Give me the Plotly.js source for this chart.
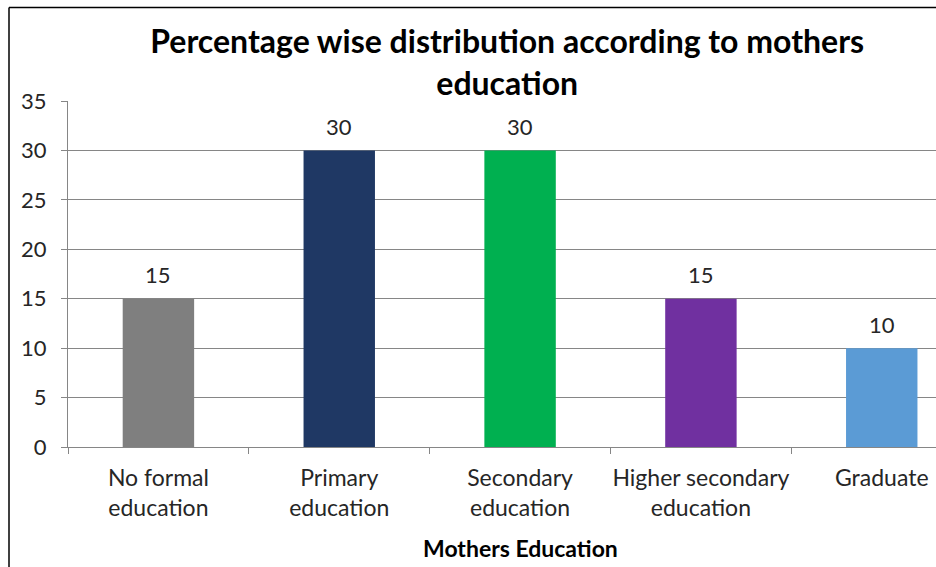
<!DOCTYPE html>
<html>
<head>
<meta charset="utf-8">
<script src="https://cdn.plot.ly/plotly-3.0.1.min.js"></script>
<style>
html,body{margin:0;padding:0;background:#fff;}
#chart{width:936px;height:567px;}
</style>
</head>
<body>
<div id="chart"></div>
<script>
const categories = ["No formal<br>education", "Primary<br>education", "Secondary<br>education", "Higher secondary<br>education", "Graduate"];
const percentages = [15, 30, 30, 15, 10];
const barColors = ["#7F7F7F", "#1F3864", "#00B050", "#7030A0", "#5B9BD5"];
const yTicks = [0, 5, 10, 15, 20, 25, 30, 35];

const FONT = "Lato, 'Open Sans', sans-serif";
const W = 936, H = 567;
const margin = {l: 68, r: 0, t: 101, b: 120};
const pw = W - margin.l - margin.r, ph = H - margin.t - margin.b;
// paper coordinates for the outer chart border (left and top edges)
const bx = (9 - margin.l) / pw;
const by = 1 + (margin.t - 7.5) / ph;

const trace = {
  type: "bar",
  x: categories,
  y: percentages,
  marker: {color: barColors, line: {width: 0}},
  width: 0.395,
  hoverinfo: "x+y"
};

const valueLabels = categories.map((c, i) => ({
  x: c, y: percentages[i], xref: "x", yref: "y",
  text: String(percentages[i]),
  showarrow: false, xanchor: "center", yanchor: "middle", yshift: 24,
  font: {family: FONT, size: 22, color: "#262626"}
}));

const layout = {
  width: W, height: H,
  margin: margin,
  paper_bgcolor: "#fff",
  plot_bgcolor: "#fff",
  showlegend: false,
  font: {family: FONT, color: "#262626"},
  title: {
    text: "<b>Percentage wise distribution according to mothers<br>education</b>",
    font: {family: FONT, size: 32, color: "#000"},
    xref: "paper", x: 0.506, xanchor: "center",
    yref: "container", y: 1 - 53 / H, yanchor: "middle"
  },
  xaxis: {
    type: "category",
    range: [-0.5, 4.3],
    tickson: "boundaries",
    tickangle: 0,
    ticks: "outside", ticklen: 6, tickcolor: "#868686",
    showline: true, linecolor: "#868686", linewidth: 1,
    showgrid: false,
    tickfont: {family: FONT, size: 23, color: "#262626"},
    ticklabelstandoff: 10,
    fixedrange: true
  },
  yaxis: {
    range: [0, 35],
    tickvals: yTicks,
    ticks: "outside", ticklen: 6, tickcolor: "#868686",
    showline: true, linecolor: "#868686", linewidth: 1,
    showgrid: true, gridcolor: "#868686", gridwidth: 1,
    zeroline: false,
    tickfont: {family: FONT, size: 22, color: "#262626"},
    ticklabelstandoff: 10,
    fixedrange: true
  },
  annotations: valueLabels.concat([{
    text: "<b>Mothers Education</b>",
    xref: "x", x: 2, yref: "paper", y: -(548 - 447) / ph,
    xanchor: "center", yanchor: "middle",
    showarrow: false,
    font: {family: FONT, size: 23, color: "#000"}
  }]),
  shapes: [
    {type: "line", xref: "paper", yref: "paper", x0: bx, x1: bx, y0: by, y1: -2, line: {color: "#000", width: 1.5}},
    {type: "line", xref: "paper", yref: "paper", x0: bx, x1: 2, y0: by, y1: by, line: {color: "#000", width: 1.5}}
  ]
};

Plotly.newPlot("chart", [trace], layout, {displayModeBar: false, staticPlot: true});
</script>
</body>
</html>
